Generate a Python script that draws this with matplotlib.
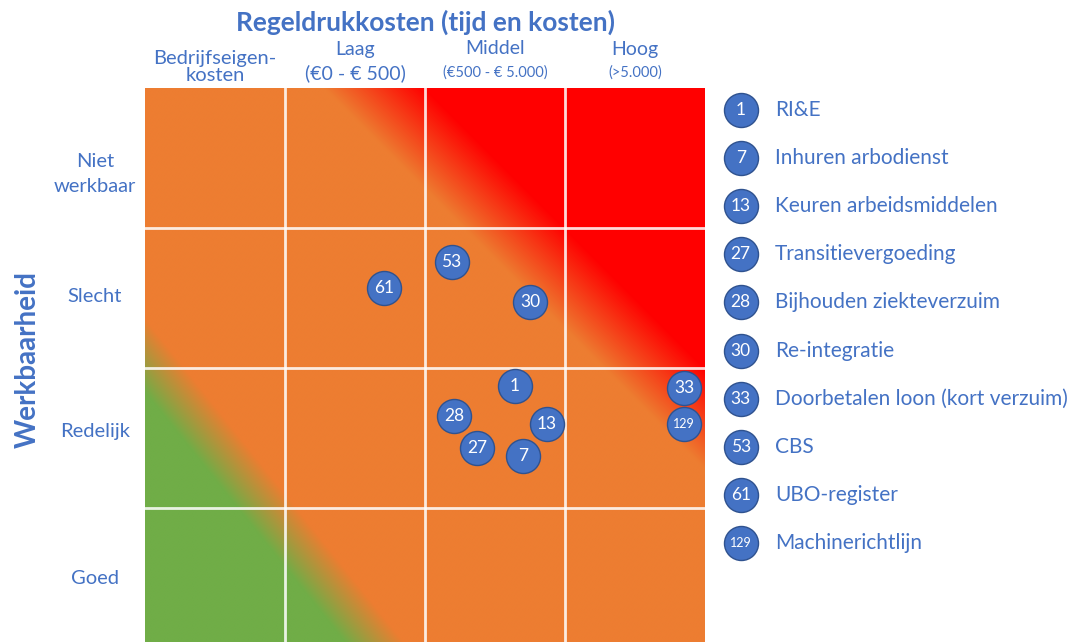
import numpy as np
import matplotlib.pyplot as plt
from matplotlib.colors import to_rgb

plt.rcParams['font.family'] = ['Lato', 'DejaVu Sans']

blue = '#4472C4'
orange = np.array(to_rgb('#ED7D31'))
green = np.array(to_rgb('#70AD47'))
red = np.array(to_rgb('#FF0000'))

col_titles = ['Bedrijfseigen-\nkosten', 'Laag', 'Middel', 'Hoog']
col_sub = ['', '(€0 - € 500)', '(€500 - € 5.000)', '(>5.000)']
row_labels = ['Goed', 'Redelijk', 'Slecht', 'Niet\nwerkbaar']

ids = ['1', '7', '13', '27', '28', '30', '33', '53', '61', '129']
names = ['RI&E', 'Inhuren arbodienst', 'Keuren arbeidsmiddelen', 'Transitievergoeding',
         'Bijhouden ziekteverzuim', 'Re-integratie', 'Doorbetalen loon (kort verzuim)',
         'CBS', 'UBO-register', 'Machinerichtlijn']
# positions in cell units (x: cost column, y: workability row from bottom)
cost = [2.64, 2.70, 2.87, 2.37, 2.21, 2.75, 3.85, 2.19, 1.71, 3.85]
work = [1.87, 1.37, 1.60, 1.43, 1.66, 2.47, 1.86, 2.76, 2.57, 1.60]

fig = plt.figure(figsize=(10.8, 6.42), dpi=100)
ax = fig.add_axes([145/1080, -6/642, 560/1080, 560/642])

# background gradient
n = 600
gx, gy = np.meshgrid(np.linspace(0, 4, n), np.linspace(0, 4, n))
tg = np.clip((gx + 0.8 * gy - 1.46) / 0.42, 0, 1)[..., None]
tr = np.clip((gx + gy - 5.28) / 0.72, 0, 1)[..., None]
img = green * (1 - tg) + orange * tg
img = img * (1 - tr) + red * tr
ax.imshow(img, extent=[0, 4, 0, 4], origin='lower', aspect='auto', zorder=0)

for v in range(1, 4):
    ax.axvline(v, color='white', lw=2, alpha=0.85, zorder=1)
    ax.axhline(v, color='white', lw=2, alpha=0.85, zorder=1)

ax.scatter(cost, work, s=600, color=blue, edgecolor='#2F528F', lw=1, zorder=3)
for i, x, y in zip(ids, cost, work):
    ax.text(x, y, i, color='white', fontsize=9 if len(i) > 2 else 12.5,
            ha='center', va='center', zorder=4)

ax.set_xlim(0, 4)
ax.set_ylim(0, 4)
ax.axis('off')

# column headers
for j in range(4):
    xc = j + 0.5
    if col_sub[j]:
        ax.text(xc, 4 + 39/140, col_titles[j], ha='center', va='center',
                fontsize=14, color=blue, clip_on=False)
        ax.text(xc, 4 + 15/140, col_sub[j], ha='center', va='center',
                fontsize=14 if j == 1 else 10.5, color=blue, clip_on=False)
    else:
        ax.text(xc, 4 + 21/140, col_titles[j], ha='center', va='center',
                fontsize=14.5, color=blue, clip_on=False, linespacing=1.05)

ax.text(2, 4 + 66/140, 'Regeldrukkosten (tijd en kosten)', ha='center', va='center',
        fontsize=19, fontweight='bold', color=blue, clip_on=False)

# row labels
row_y = [579, 432, 297, 174]
for lab, py in zip(row_labels, row_y):
    ax.text(-50/140, (648 - py)/140, lab, ha='center', va='center',
            fontsize=14.5, color=blue, clip_on=False, linespacing=1.55)

fig.text(28/1080, 1 - 360/642, 'Werkbaarheid', rotation=90, ha='center', va='center',
         fontsize=20, fontweight='bold', color=blue)

# legend
lg = fig.add_axes([720/1080, (642 - 567)/642, 360/1080, 481/642])
lg.set_xlim(0, 360)
lg.set_ylim(9.5, -0.5)
lg.axis('off')
rows = np.arange(len(ids))
lg.scatter([20.7] * len(ids), rows, s=600, color=blue, edgecolor='#2F528F', lw=1)
for k, (i, nm) in enumerate(zip(ids, names)):
    lg.text(20.7, k, i, color='white', fontsize=9 if len(i) > 2 else 12.5,
            ha='center', va='center')
    lg.text(55, k, nm, color=blue, fontsize=15, ha='left', va='center')

fig.savefig('out.png', dpi=100)
